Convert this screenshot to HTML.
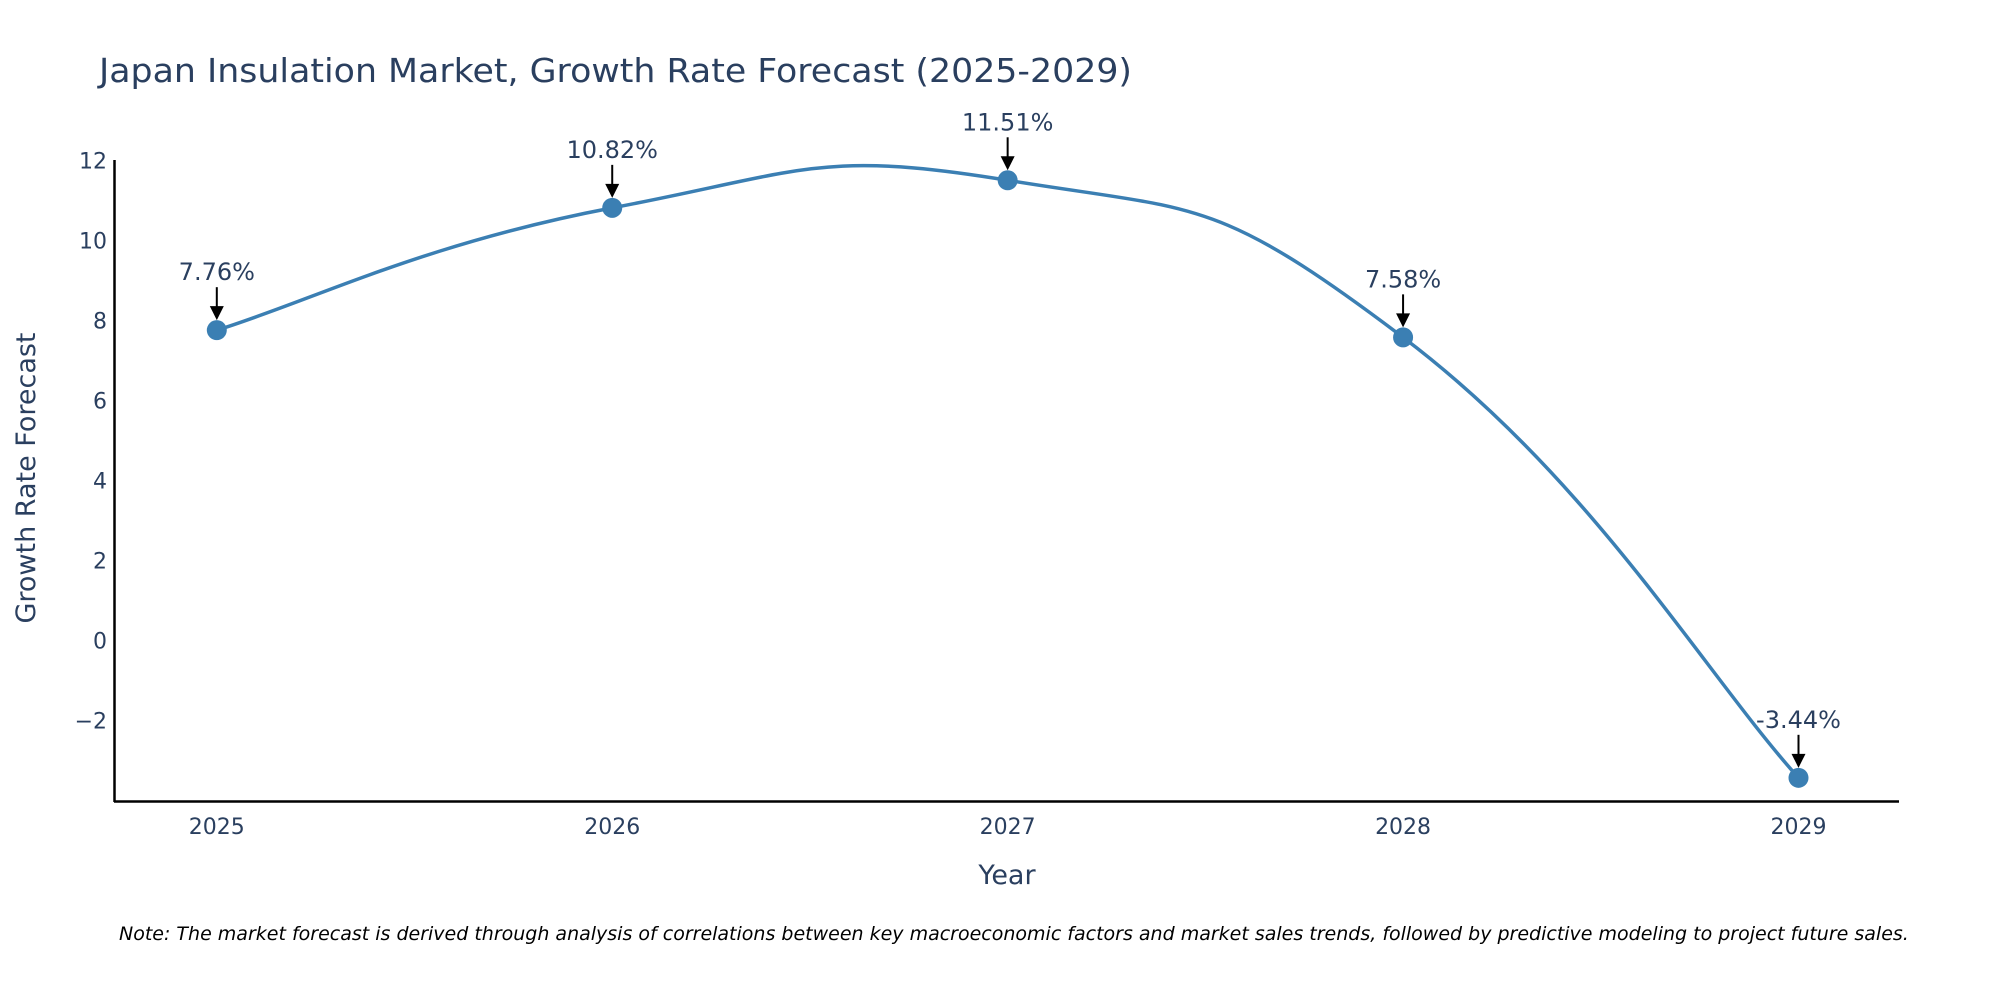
<!DOCTYPE html>
<html><head><meta charset="utf-8"><style>
html,body{margin:0;padding:0;background:#fff;}
svg{display:block;font-family:"DejaVu Sans","Liberation Sans",sans-serif;}
</style></head><body>
<svg id="chart" width="2000" height="1000" viewBox="0 0 2000 1000">
<text x="99" y="82" font-size="33" fill="#2a3f5f" textLength="1033" lengthAdjust="spacingAndGlyphs">Japan Insulation Market, Growth Rate Forecast (2025-2029)</text>
<g id="yticks"></g>
<g id="xticks"></g>
<line x1="114.5" y1="160" x2="114.5" y2="802" stroke="#000" stroke-width="2.5"/>
<line x1="114" y1="801.5" x2="1899" y2="801.5" stroke="#000" stroke-width="2.5"/>
<text x="0" y="0" transform="translate(35,478) rotate(-90)" text-anchor="middle" font-size="27" fill="#2a3f5f">Growth Rate Forecast</text>
<text x="1007" y="884" text-anchor="middle" font-size="27" fill="#2a3f5f">Year</text>
<g id="series"></g>
<text x="119" y="940" font-size="19" font-style="italic" fill="#000">Note: The market forecast is derived through analysis of correlations between key macroeconomic factors and market sales trends, followed by predictive modeling to project future sales.</text>
</svg>
<script>
const years = ["2025","2026","2027","2028","2029"];
const growth = [7.76, 10.82, 11.51, 7.58, -3.44];
const yTickValues = [-2, 0, 2, 4, 6, 8, 10, 12];
const yTickLabels = ["\u22122","0","2","4","6","8","10","12"];

const NS = "http://www.w3.org/2000/svg";
const xL = 216.8, xR = 1798.5;
function xScale(i){ return xL + (xR - xL) * i / (years.length - 1); }
const yMin = -4.02, yMax = 12, yTop = 160.7, yBot = 801;
function yScale(v){ return yBot - (v - yMin) / (yMax - yMin) * (yBot - yTop); }
function mk(tag, attrs, parent){ const e=document.createElementNS(NS,tag); for(const k in attrs) e.setAttribute(k,attrs[k]); parent.appendChild(e); return e; }

const yt = document.getElementById('yticks');
yTickValues.forEach((v,i)=>{
  const t = mk('text',{x:107,y:yScale(v)+8,'text-anchor':'end','font-size':22,fill:'#2a3f5f'},yt);
  
  
  t.textContent = yTickLabels[i];
});
const xt = document.getElementById('xticks');
years.forEach((y,i)=>{
  const t = mk('text',{x:xScale(i),y:834,'text-anchor':'middle','font-size':22,fill:'#2a3f5f'},xt);
  
  
  t.textContent = y;
});

const pts = growth.map((v,i)=>[xScale(i), yScale(v)]);
let d = `M${pts[0][0]},${pts[0][1]}`;
const k = 0.24;
for(let i=0;i<pts.length-1;i++){
  const p0 = pts[Math.max(0,i-1)], p1 = pts[i], p2 = pts[i+1], p3 = pts[Math.min(pts.length-1,i+2)];
  const c1 = [p1[0]+(p2[0]-p0[0])*k, p1[1]+(p2[1]-p0[1])*k];
  const c2 = [p2[0]-(p3[0]-p1[0])*k, p2[1]-(p3[1]-p1[1])*k];
  d += ` C${c1[0]},${c1[1]} ${c2[0]},${c2[1]} ${p2[0]},${p2[1]}`;
}
const g = document.getElementById('series');
const line = mk('path',{d:d,fill:'none',stroke:'#3b7fb3','stroke-width':3.5},g);


pts.forEach((p,i)=>{
  const c = mk('circle',{cx:p[0],cy:p[1],r:10,fill:'#3b7fb3'},g);
  
  
  const a = mk('line',{x1:p[0],y1:p[1]-43,x2:p[0],y2:p[1]-22,stroke:'#000','stroke-width':2},g);
  
  
  const h = mk('polygon',{points:`${p[0]-7},${p[1]-24} ${p[0]+7},${p[1]-24} ${p[0]},${p[1]-10}`,fill:'#000'},g);
  
  
  const t = mk('text',{x:p[0],y:p[1]-50,'text-anchor':'middle','font-size':24,fill:'#2a3f5f'},g);
  
  
  t.textContent = growth[i].toFixed(2)+'%';
});
</script>
</body></html>
